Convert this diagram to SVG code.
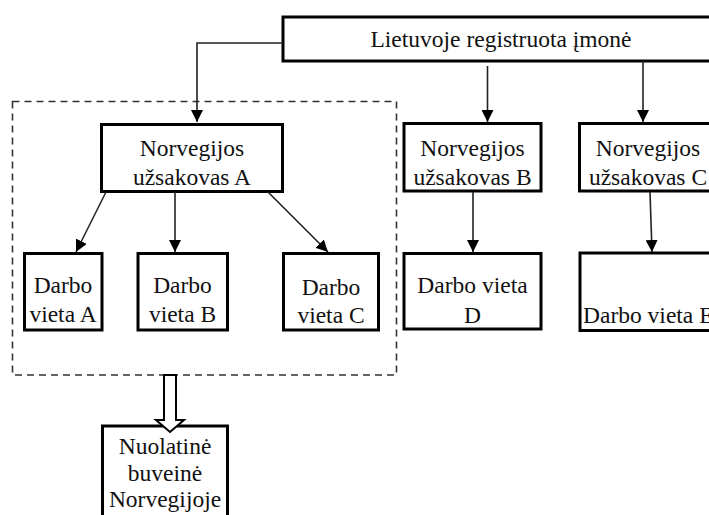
<svg xmlns="http://www.w3.org/2000/svg" width="709" height="515" viewBox="0 0 709 515">
  <style>
    .box { fill: #ffffff; stroke: #000000; stroke-width: 3; }
    .lbl { font-family: "Liberation Serif", "Times New Roman", serif; font-size: 23.5px; fill: #111111; text-anchor: middle; }
    .edge { fill: none; stroke: #222222; stroke-width: 1.6; marker-end: url(#head); }
    .group { fill: none; stroke: #333333; stroke-width: 1.6; stroke-dasharray: 7 5; }
    .big { fill: #ffffff; stroke: #000000; stroke-width: 2; stroke-linejoin: miter; }
  </style>
  <defs>
    <marker id="head" markerUnits="userSpaceOnUse" markerWidth="13" markerHeight="12" refX="12" refY="6" orient="auto">
      <path d="M0,0 L12,6 L0,12 z" fill="#000000"/>
    </marker>
  </defs>
  <rect width="709" height="515" fill="#ffffff"/>

  <!-- dashed boundary around customer A and its work sites -->
  <rect id="group-a" class="group" x="12.5" y="101.5" width="384" height="273.5"/>

  <g id="company">
    <rect class="box" x="283" y="17" width="440" height="44"/>
    <text class="lbl" x="501" y="47">Lietuvoje registruota įmonė</text>
  </g>

  <g id="customer-a">
    <rect class="box" x="101.5" y="124.5" width="181" height="67"/>
    <text class="lbl" x="192" y="156">Norvegijos</text>
    <text class="lbl" x="192" y="185">užsakovas A</text>
  </g>

  <g id="customer-b">
    <rect class="box" x="404" y="123.5" width="137" height="67.5"/>
    <text class="lbl" x="472.5" y="156">Norvegijos</text>
    <text class="lbl" x="472.5" y="185">užsakovas B</text>
  </g>

  <g id="customer-c">
    <rect class="box" x="579.5" y="123.5" width="150" height="67.5"/>
    <text class="lbl" x="648" y="156">Norvegijos</text>
    <text class="lbl" x="648" y="185">užsakovas C</text>
  </g>

  <g id="site-a">
    <rect class="box" x="24.5" y="253.5" width="77.5" height="76.5"/>
    <text class="lbl" x="63" y="293">Darbo</text>
    <text class="lbl" x="63" y="322">vieta A</text>
  </g>

  <g id="site-b">
    <rect class="box" x="138" y="253.5" width="89.5" height="76.5"/>
    <text class="lbl" x="182.5" y="293">Darbo</text>
    <text class="lbl" x="182.5" y="322">vieta B</text>
  </g>

  <g id="site-c">
    <rect class="box" x="283.5" y="253.5" width="95" height="76.5"/>
    <text class="lbl" x="331" y="295">Darbo</text>
    <text class="lbl" x="331" y="323">vieta C</text>
  </g>

  <g id="site-d">
    <rect class="box" x="404" y="253.5" width="137" height="75.5"/>
    <text class="lbl" x="472.5" y="293">Darbo vieta</text>
    <text class="lbl" x="472.5" y="323">D</text>
  </g>

  <g id="site-e">
    <rect class="box" x="580" y="253" width="150" height="77.5"/>
    <text class="lbl" x="583" y="323" style="text-anchor:start">Darbo vieta E</text>
  </g>

  <g id="permanent-establishment">
    <rect class="box" x="102.5" y="426" width="125" height="100"/>
    <text class="lbl" x="165" y="454">Nuolatinė</text>
    <text class="lbl" x="165" y="481">buveinė</text>
    <text class="lbl" x="165" y="507">Norvegijoje</text>
  </g>

  <g id="connectors">
    <path class="edge" d="M283,43 H197 V122"/>
    <path class="edge" d="M487.5,66 V122"/>
    <path class="edge" d="M643,61 V122"/>
    <path class="edge" d="M106,192 L76,252"/>
    <path class="edge" d="M175,192 V252"/>
    <path class="edge" d="M268,192 L328,252"/>
    <path class="edge" d="M473,192 V252"/>
    <path class="edge" d="M650,192 L652,252"/>
    <!-- hollow block arrow from the group to the establishment -->
    <polygon class="big" points="164,375 176,375 176,420 184,420 170,432 156,420 164,420"/>
  </g>
</svg>
